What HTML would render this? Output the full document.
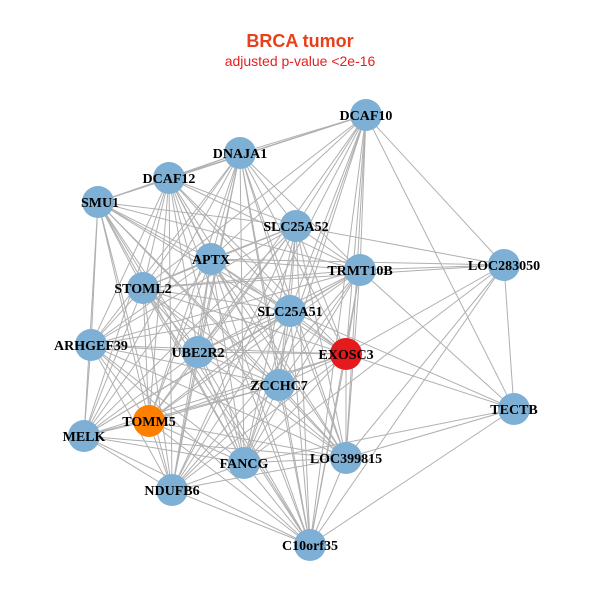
<!DOCTYPE html>
<html><head><meta charset="utf-8"><style>
body{margin:0;background:#fff}
svg text{font-family:"Liberation Serif",serif;font-weight:bold;font-size:14px;fill:#000}
</style></head><body>
<svg id="s" width="600" height="600" viewBox="0 0 600 600" xmlns="http://www.w3.org/2000/svg">
<rect width="600" height="600" fill="#fff"/>
<text x="300" y="47" text-anchor="middle" style="font-family:'Liberation Sans',sans-serif;font-size:18px;font-weight:bold;fill:#e8401a">BRCA tumor</text>
<text x="300" y="66" text-anchor="middle" style="font-family:'Liberation Sans',sans-serif;font-size:14px;font-weight:normal;fill:#e81e1e">adjusted p-value &lt;2e-16</text>
<g id="edges" stroke="#b0b0b0" stroke-width="1"></g>
<g id="nodes"></g>
<g id="labels" text-anchor="middle">
<text x="366" y="120">DCAF10</text>
<text x="240" y="158">DNAJA1</text>
<text x="169" y="183">DCAF12</text>
<text x="100" y="207">SMU1</text>
<text x="296" y="231">SLC25A52</text>
<text x="211" y="264">APTX</text>
<text x="360" y="275">TRMT10B</text>
<text x="504" y="270">LOC283050</text>
<text x="143" y="293">STOML2</text>
<text x="290" y="316">SLC25A51</text>
<text x="91" y="350">ARHGEF39</text>
<text x="198" y="357">UBE2R2</text>
<text x="346" y="359">EXOSC3</text>
<text x="279" y="390">ZCCHC7</text>
<text x="149" y="426">TOMM5</text>
<text x="514" y="414">TECTB</text>
<text x="84" y="441">MELK</text>
<text x="244" y="468">FANCG</text>
<text x="346" y="463">LOC399815</text>
<text x="172" y="495">NDUFB6</text>
<text x="310" y="550">C10orf35</text>
</g>
</svg>
<script>
var N={DCAF10:[366,115],DNAJA1:[240,153],DCAF12:[169,178],SMU1:[98,202],SLC25A52:[296,226],APTX:[211,259],TRMT10B:[360,270],LOC283050:[504,265],STOML2:[143,288],SLC25A51:[290,311],ARHGEF39:[91,345],UBE2R2:[198,352],EXOSC3:[346,354],ZCCHC7:[279,385],TOMM5:[149,421],TECTB:[514,409],MELK:[84,436],FANCG:[244,463],LOC399815:[346,458],NDUFB6:[172,490],C10orf35:[310,545]};
var ns="http://www.w3.org/2000/svg",E=document.getElementById('edges'),G=document.getElementById('nodes');
function L(a,b){var l=document.createElementNS(ns,'line');l.setAttribute('x1',N[a][0]);l.setAttribute('y1',N[a][1]);l.setAttribute('x2',N[b][0]);l.setAttribute('y2',N[b][1]);E.appendChild(l);}
var keys=Object.keys(N).filter(function(k){return k!='LOC283050'&&k!='TECTB';});
var skip={'SMU1-MELK':0,'DCAF10-MELK':1,'DCAF10-ARHGEF39':1,'DCAF10-TOMM5':1};
for(var i=0;i<keys.length;i++)for(var j=i+1;j<keys.length;j++){if(skip[keys[i]+'-'+keys[j]])continue;L(keys[i],keys[j]);}
['DCAF10','TRMT10B','SLC25A52','EXOSC3','LOC399815','C10orf35','TECTB','APTX','STOML2','FANCG'].forEach(function(k){L('LOC283050',k)});
['DCAF10','TRMT10B','EXOSC3','SLC25A51','LOC399815','C10orf35','FANCG'].forEach(function(k){L('TECTB',k)});
for(var k in N){var c=document.createElementNS(ns,'circle');c.setAttribute('cx',N[k][0]);c.setAttribute('cy',N[k][1]);c.setAttribute('r',16);
c.setAttribute('fill',k=='EXOSC3'?'#e41a1c':k=='TOMM5'?'#ff7f00':'#7eb0d5');G.appendChild(c);}
</script>
</body></html>
